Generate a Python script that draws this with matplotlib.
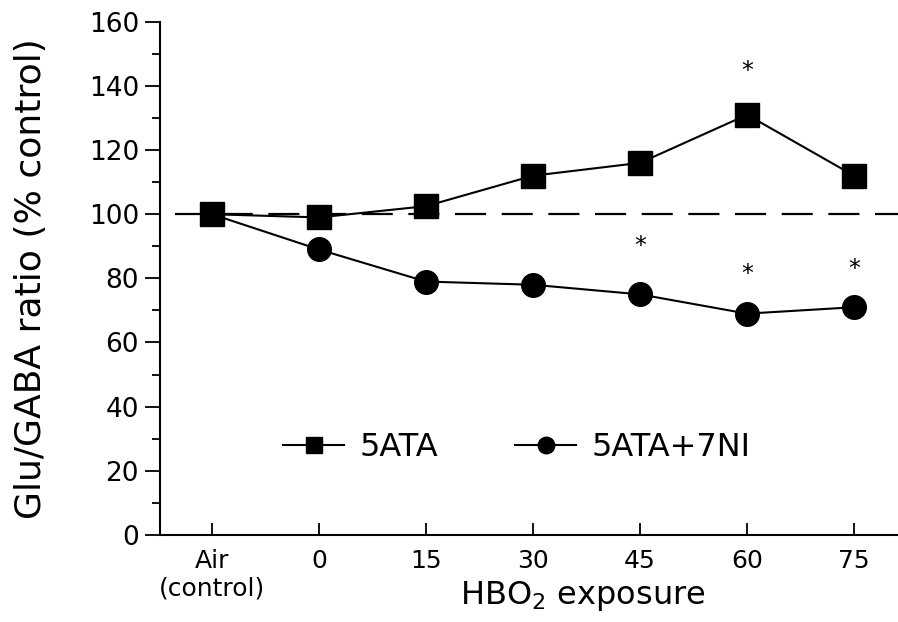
import matplotlib
matplotlib.use('Agg')
import matplotlib.pyplot as plt
from matplotlib.ticker import MultipleLocator

plt.rcParams['font.family'] = ['DejaVu Sans']

labels = ['Air\n(control)', '0', '15', '30', '45', '60', '75']
ata = [100, 99, 102.5, 112, 116, 131, 112]
ata_7ni = [100, 89, 79, 78, 75, 69, 71]
# asterisks: (category index, y value)
stars = [(5, 144.5), (4, 90), (5, 81.5), (6, 83)]

x = list(range(len(labels)))

fig = plt.figure(figsize=(8.98, 6.22), dpi=100)
ax = fig.add_axes([0.178, 0.14, 0.822, 0.825])

ax.axhline(100, xmin=0.02, color='black', lw=1.6, dashes=(14, 7), zorder=1)
ax.plot(x, ata, '-s', color='black', lw=1.5, ms=17, label='5ATA', zorder=3)
ax.plot(x, ata_7ni, '-o', color='black', lw=1.5, ms=17, label='5ATA+7NI', zorder=3)

for i, v in stars:
    ax.text(i, v, '*', ha='center', va='center', fontsize=17)

ax.set_xlim(-0.486, 6.41)
ax.set_ylim(0, 160)
ax.set_xticks(x)
ax.set_xticklabels(labels)
ax.yaxis.set_major_locator(MultipleLocator(20))
ax.yaxis.set_minor_locator(MultipleLocator(10))

ax.spines['top'].set_visible(False)
ax.spines['right'].set_visible(False)
ax.spines['left'].set_linewidth(1.5)
ax.spines['bottom'].set_linewidth(1.5)

ax.tick_params(axis='y', which='major', direction='out', length=11, width=1.3, labelsize=19, pad=4)
ax.tick_params(axis='y', which='minor', direction='out', length=6, width=1.3)
ax.tick_params(axis='x', direction='in', length=9, width=1.3, labelsize=18, pad=10)

ax.set_ylabel('Glu/GABA ratio (% control)', fontsize=26)
ax.yaxis.set_label_coords(-0.152, 0.5)
ax.set_xlabel('HBO$_2$ exposure', fontsize=23)
ax.xaxis.set_label_coords(0.573, -0.085)

ax.legend(loc='center', bbox_to_anchor=(0.484, 0.17), ncol=2, frameon=False,
          fontsize=23, markerscale=0.7, handlelength=1.9, handletextpad=0.5,
          columnspacing=2.4)

plt.savefig('out.png', dpi=100)
